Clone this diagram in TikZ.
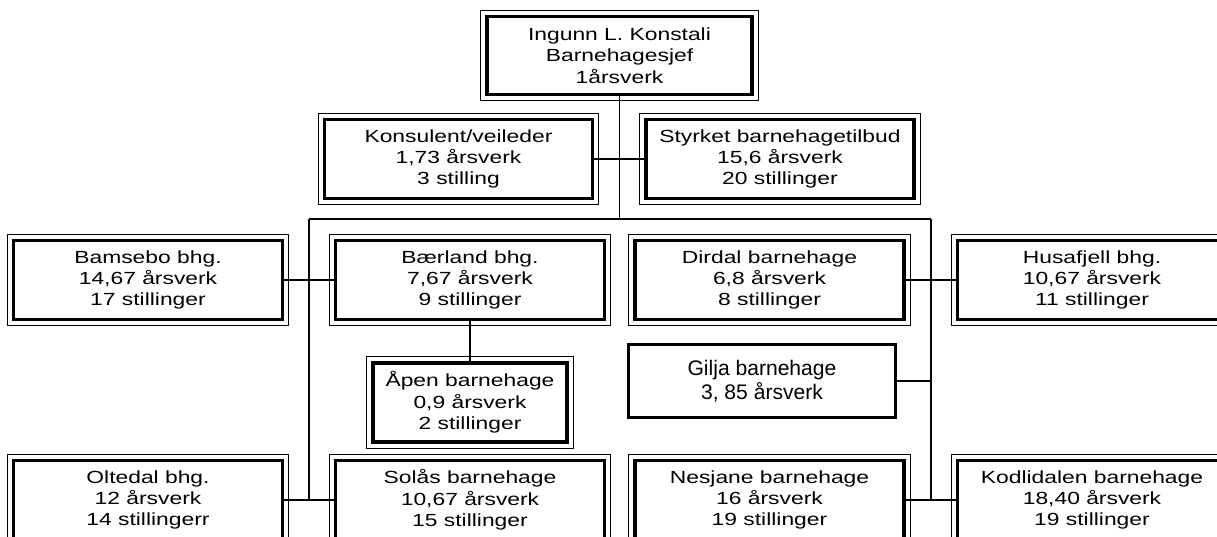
\documentclass[tikz,border=0pt]{standalone}
\usepackage{fontspec}
\setmainfont[FakeStretch=1.3]{Liberation Sans}
\newfontfamily\narrowfont{Liberation Sans}
\begin{document}
\begin{tikzpicture}[x=0.02cm,y=-0.02cm,
  unit/.style={draw,line width=1.8pt,align=center,inner sep=0pt,minimum width=5.38cm,minimum height=1.58cm,font=\fontsize{10pt}{12.2pt}\selectfont},
  frame/.style={line width=0.55pt},
  link/.style={line width=0.8pt}]
\useasboundingbox (0,0) rectangle (1217,537);
\node[unit,minimum width=5.3cm,minimum height=1.56cm] (boss) at (619.5,55.5) {Ingunn L. Konstali\\Barnehagesjef\\1årsverk};
\node[unit,minimum width=5.36cm] (kons) at (458.5,159) {Konsulent/veileder\\1,73 årsverk\\3 stilling};
\node[unit,minimum width=5.36cm] (styrk) at (780,159) {Styrket barnehagetilbud\\15,6 årsverk\\20 stillinger};
\node[unit] (bamse) at (148,280) {Bamsebo bhg.\\14,67 årsverk\\17 stillinger};
\node[unit] (baer) at (470,280) {Bærland bhg.\\7,67 årsverk\\9 stillinger};
\node[unit] (dird) at (769.5,280) {Dirdal barnehage\\6,8 årsverk\\8 stillinger};
\node[unit] (husa) at (1092,280) {Husafjell bhg.\\10,67 årsverk\\11 stillinger};
\node[unit,minimum width=3.88cm] (apen) at (470,402.5) {Åpen barnehage\\0,9 årsverk\\2 stillinger};
\node[unit,line width=1.7pt,minimum width=5.33cm,minimum height=1.45cm,font=\narrowfont\fontsize{12pt}{13.6pt}\selectfont] (gilja) at (762,381) {Gilja barnehage\\3, 85 årsverk};
\node[unit] (olte) at (148,500) {Oltedal bhg.\\12 årsverk\\14 stillingerr};
\node[unit] (solas) at (470,500) {Solås barnehage\\10,67 årsverk\\15 stillinger};
\node[unit] (nesj) at (769.5,500) {Nesjane barnehage\\16 årsverk\\19 stillinger};
\node[unit] (kodl) at (1092,500) {Kodlidalen barnehage\\18,40 årsverk\\19 stillinger};
\foreach \n in {boss,kons,styrk,bamse,baer,dird,husa,apen,olte,solas,nesj,kodl}
  \draw[frame] ([shift={(-4.5,-4.5)}]\n.north west) rectangle ([shift={(4.5,4.5)}]\n.south east);
\coordinate (bl) at (309,219);
\coordinate (br) at (931,219);
\draw[link] (boss.south) -- (boss.south |- bl);
\draw[link] (bl) -- (br);
\draw[link] (bl) -- (bl |- olte.east);
\draw[link] (br) -- (br |- kodl.west);
\draw[link] (kons) -- (styrk);
\draw[link] (bamse) -- (baer);
\draw[link] (dird) -- (husa);
\draw[link] (baer) -- (apen);
\draw[link] (gilja.east) -- (gilja.east -| br);
\draw[link] (olte) -- (solas);
\draw[link] (nesj) -- (kodl);
\end{tikzpicture}
\end{document}
